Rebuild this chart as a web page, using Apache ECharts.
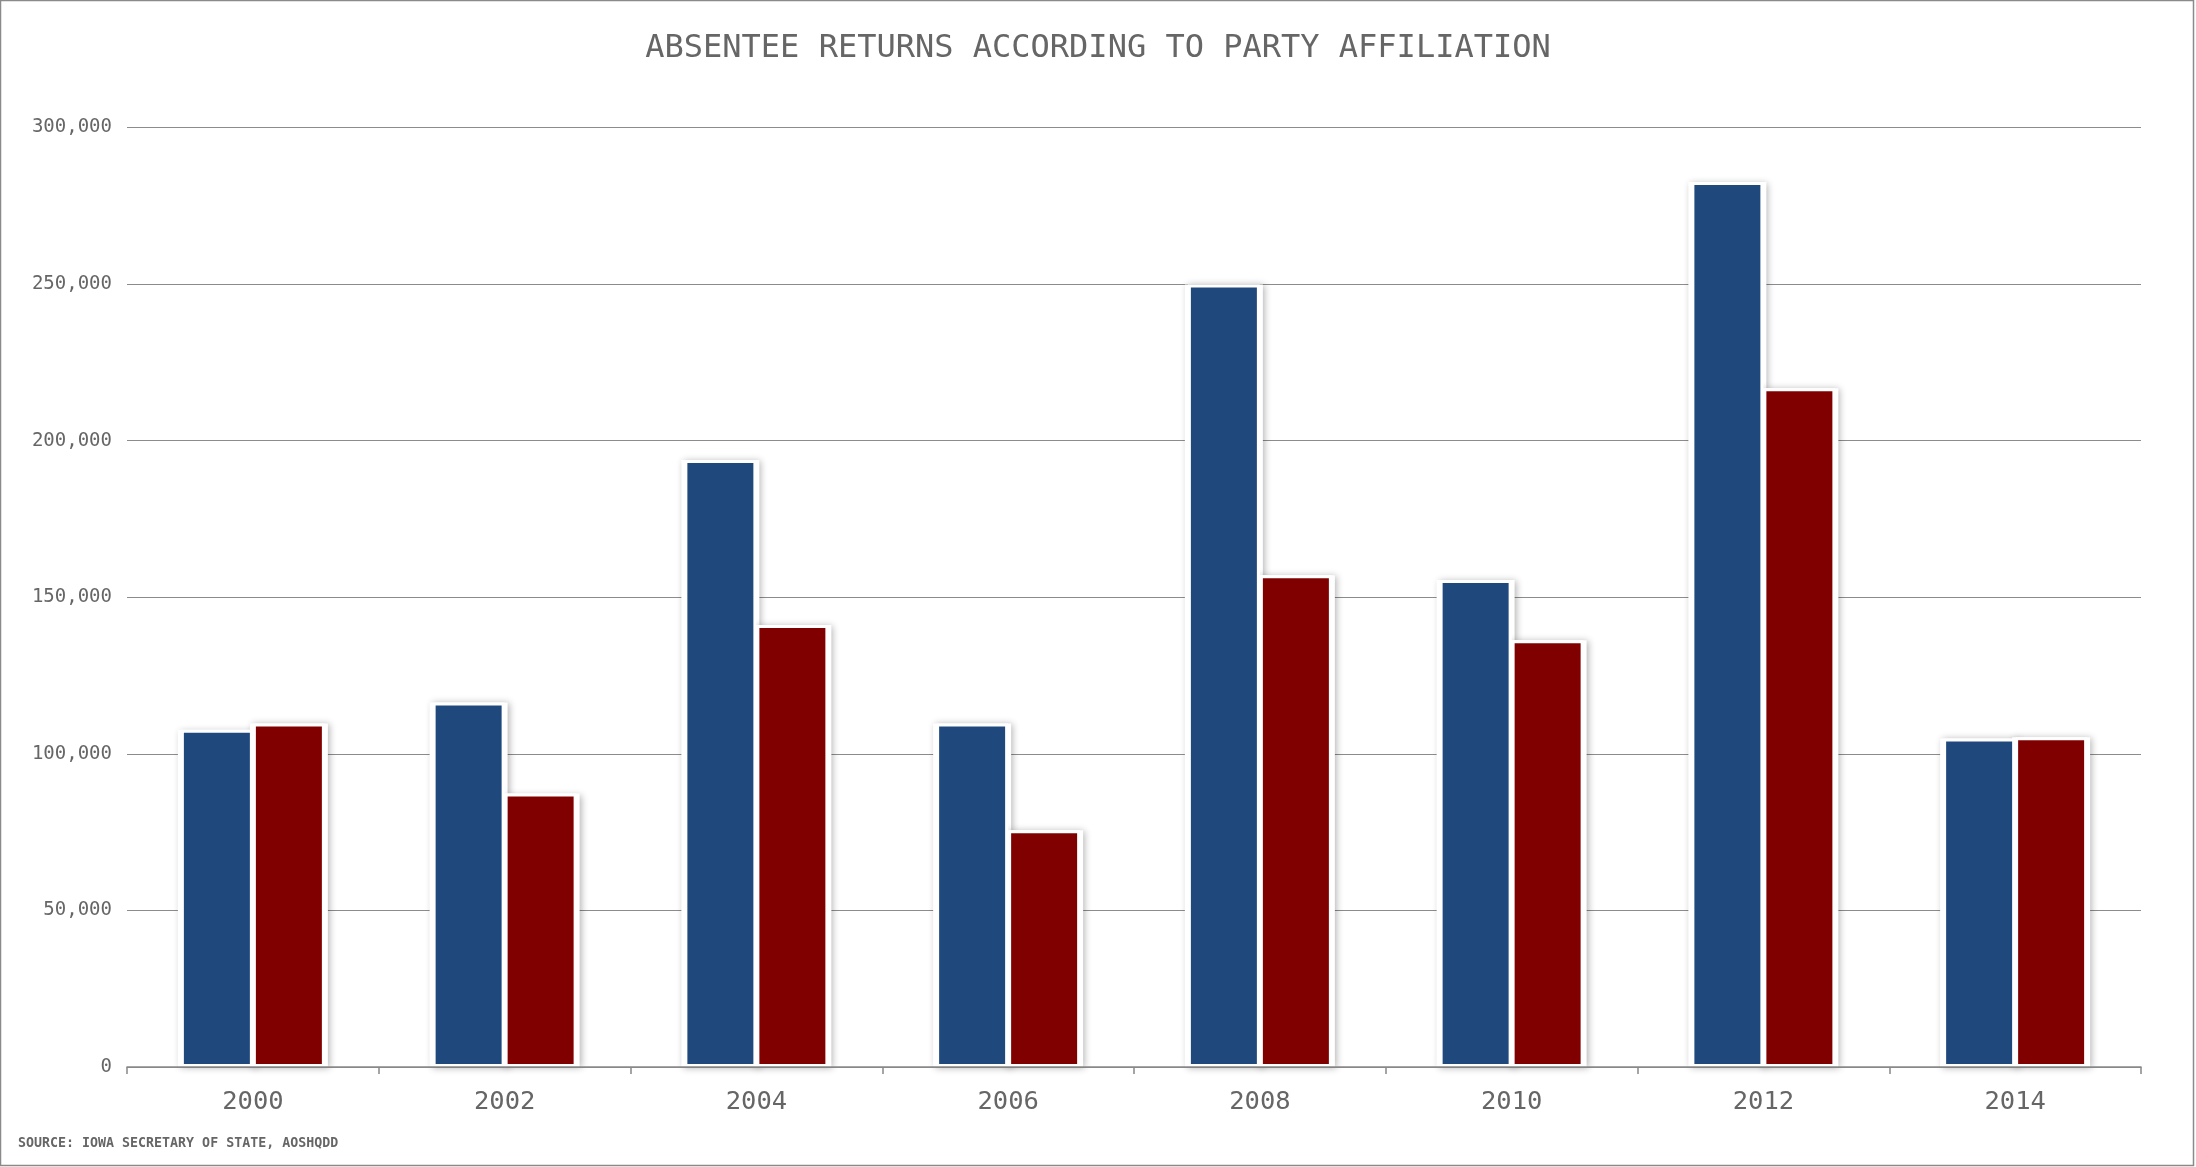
<!DOCTYPE html>
<html>
<head>
<meta charset="utf-8">
<script src="https://cdn.jsdelivr.net/npm/echarts@6/dist/echarts.min.js"></script>
<style>
html,body{margin:0;padding:0;background:#fff;}
#chart{width:2196px;height:1167px;}
</style>
</head>
<body>
<div id="chart"></div>
<script>
const years = ['2000','2002','2004','2006','2008','2010','2012','2014'];
const blueValues = [107700, 116400, 193800, 109700, 249900, 155500, 282600, 104900];
const redValues = [109700, 87300, 141100, 75600, 157000, 136300, 216700, 105300];
const yTicks = [0, 50000, 100000, 150000, 200000, 250000, 300000];
const titleText = 'ABSENTEE RETURNS ACCORDING TO PARTY AFFILIATION';
const sourceText = 'SOURCE: IOWA SECRETARY OF STATE, AOSHQDD';

const mono = '"DejaVu Sans Mono", "Liberation Mono", monospace';
const chart = echarts.init(document.getElementById('chart'));

const frameStyle = {
  color: '#ffffff',
  shadowColor: 'rgba(0,0,0,0.30)',
  shadowBlur: 7,
  shadowOffsetX: 2,
  shadowOffsetY: 1
};
const fillStyle = (c) => ({ color: c, borderColor: '#ffffff', borderWidth: 3 });

chart.setOption({
  backgroundColor: '#ffffff',
  animation: false,
  title: {
    text: titleText,
    left: 'center',
    top: 28,
    textStyle: { fontFamily: mono, fontSize: 32, fontWeight: 'normal', color: '#666666' }
  },
  graphic: [
    {
      type: 'rect',
      shape: { x: 0.5, y: 0.5, width: 2193, height: 1165 },
      style: { fill: 'none', stroke: '#8a8a8a', lineWidth: 1.5 },
      silent: true
    },
    {
      type: 'text',
      left: 18,
      top: 1137,
      style: { text: sourceText, fontFamily: mono, fontSize: 13.3, fontWeight: 'bold', fill: '#666666' }
    }
  ],
  grid: { left: 127, right: 55, top: 127.5, bottom: 100, containLabel: false },
  xAxis: [
    {
      type: 'category',
      data: years,
      z: 5,
      axisLine: { show: true, lineStyle: { color: '#888888', width: 1.5 } },
      axisTick: { show: true, length: 7, lineStyle: { color: '#888888', width: 1.5 } },
      axisLabel: { fontFamily: mono, fontSize: 25.5, color: '#666666', margin: 22 },
      splitLine: { show: false }
    },
    {
      type: 'category',
      data: years,
      show: false
    }
  ],
  yAxis: {
    type: 'value',
    min: 0,
    max: 300000,
    interval: 50000,
    axisLine: { show: false },
    axisTick: { show: false },
    axisLabel: {
      fontFamily: mono, fontSize: 19, color: '#666666', margin: 15,
      formatter: (v) => v.toLocaleString('en-US')
    },
    splitLine: { lineStyle: { color: '#8c8c8c', width: 1.2 } }
  },
  series: [
    { name: 'Democrat frame', type: 'bar', xAxisIndex: 0, data: blueValues, barWidth: 78, barGap: '-7.69%', z: 2, itemStyle: frameStyle, silent: true },
    { name: 'Republican frame', type: 'bar', xAxisIndex: 0, data: redValues, barWidth: 78, barGap: '-7.69%', z: 2, itemStyle: frameStyle, silent: true },
    { name: 'Democrat', type: 'bar', xAxisIndex: 1, data: blueValues, barWidth: 72, barGap: '0%', z: 3, itemStyle: fillStyle('#1f497d') },
    { name: 'Republican', type: 'bar', xAxisIndex: 1, data: redValues, barWidth: 72, barGap: '0%', z: 3, itemStyle: fillStyle('#800000') }
  ]
});
</script>
</body>
</html>
